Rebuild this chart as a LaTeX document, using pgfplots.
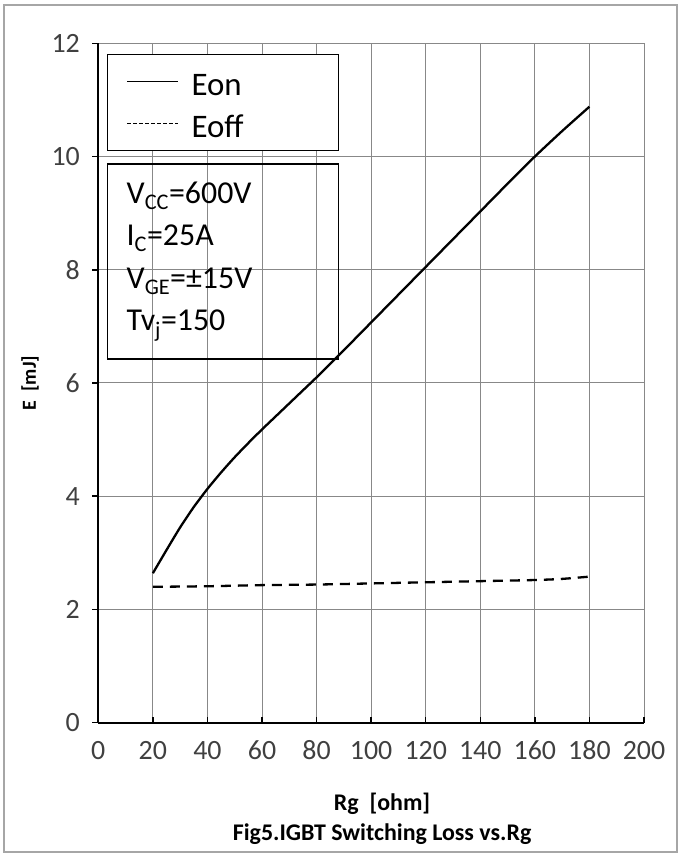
\documentclass[border=0pt]{standalone}
\usepackage{pgfplots}
\pgfplotsset{compat=1.18}
\usepackage{fontspec}
\setmainfont{Carlito}

\definecolor{gridgray}{HTML}{888888}
\definecolor{ticktext}{HTML}{404040}
\definecolor{framegray}{HTML}{A6A6A6}

% Switching energy vs. gate resistance
\pgfplotstableread{
Rg   Eon
20   2.64
25   3.05
30   3.45
35   3.81
40   4.13
45   4.42
50   4.69
55   4.94
60   5.18
65   5.41
70   5.64
75   5.87
80   6.10
90   6.58
100  7.07
110  7.56
120  8.05
130  8.54
140  9.03
150  9.52
160  10.00
170  10.45
180  10.88
}\eondata

\pgfplotstableread{
Rg   Eoff
20   2.40
40   2.41
60   2.43
80   2.44
100  2.46
120  2.48
140  2.50
160  2.52
170  2.54
180  2.58
}\eoffdata

\begin{document}
\begin{tikzpicture}
\path[use as bounding box] (0,0) rectangle (681bp,859bp);
\draw[framegray, line width=1.5bp] (4bp,7bp) rectangle (677bp,854bp);

\begin{axis}[
  at={(98.3bp,136.3bp)}, anchor=south west,
  scale only axis, width=545.7bp, height=679.4bp,
  xmin=0, xmax=200, ymin=0, ymax=12,
  xtick={0,20,...,200}, ytick={0,2,...,12},
  axis lines=left,
  axis line style={-, black, line width=2bp},
  grid=major,
  major grid style={gridgray, line width=1bp},
  xtick align=inside, ytick align=outside,
  major tick length=6bp,
  tick style={black, line width=1.5bp},
  /pgf/number format/assume math mode=true,
  tick label style={font=\fontsize{28}{28}\selectfont, text=ticktext},
  xticklabel style={yshift=-14bp, text height=19bp, text depth=0bp},
  yticklabel style={xshift=-9bp},
  xlabel={\textbf{Rg\ \ [ohm]}},
  ylabel={\textbf{E\ \ [mJ]}},
  xlabel style={at={(axis description cs:0.52,-0.12)}, anchor=center, font=\fontsize{24}{24}\selectfont},
  ylabel style={at={(axis description cs:-0.125,0.5)}, anchor=center, font=\fontsize{20}{20}\selectfont},
  clip=false,
  legend image code/.code={\draw[#1] (0bp,0bp) -- (51bp,0bp);},
  legend cell align=left,
  legend style={
    at={(axis description cs:0.016,0.984)}, anchor=north west,
    draw=black, line width=1.3bp,
    font=\fontsize{33}{33}\selectfont,
    inner xsep=19bp, inner ysep=8.5bp,
    row sep=5.5bp, column sep=9bp,
    nodes={inner sep=4bp, text height=28.5bp, text depth=0bp},
  },
]
\addlegendimage{black, line width=0.9bp}
\addlegendentry{Eon}
\addlegendimage{black, line width=0.9bp, dash pattern=on 3.5bp off 2.5bp}
\addlegendentry{Eoff\hspace*{72bp}}

\addplot[black, line width=2.3bp, smooth, tension=0.4, forget plot] table[x=Rg, y=Eon] {\eondata};
\addplot[black, line width=2.3bp, smooth, tension=0.4, dash pattern=on 10bp off 7bp, forget plot] table[x=Rg, y=Eoff] {\eoffdata};

% test conditions
\node[draw=black, line width=1.3bp, anchor=north west,
      minimum width=231bp, minimum height=195bp,
      inner xsep=19bp, text width=193bp, align=left,
      font=\fontsize{32}{42.7}\selectfont]
  at (axis description cs:0.016,0.8234)
  {V\textsubscript{CC}=600V\\
   I\textsubscript{C}=25A\\
   V\textsubscript{GE}=±15V\\
   Tv\textsubscript{j}=150};

% caption under the axis title
\node[font=\fontsize{24}{24}\selectfont\bfseries, anchor=center]
  at (axis description cs:0.52,-0.164) {Fig5.IGBT Switching Loss vs.Rg};
\end{axis}
\end{tikzpicture}
\end{document}
